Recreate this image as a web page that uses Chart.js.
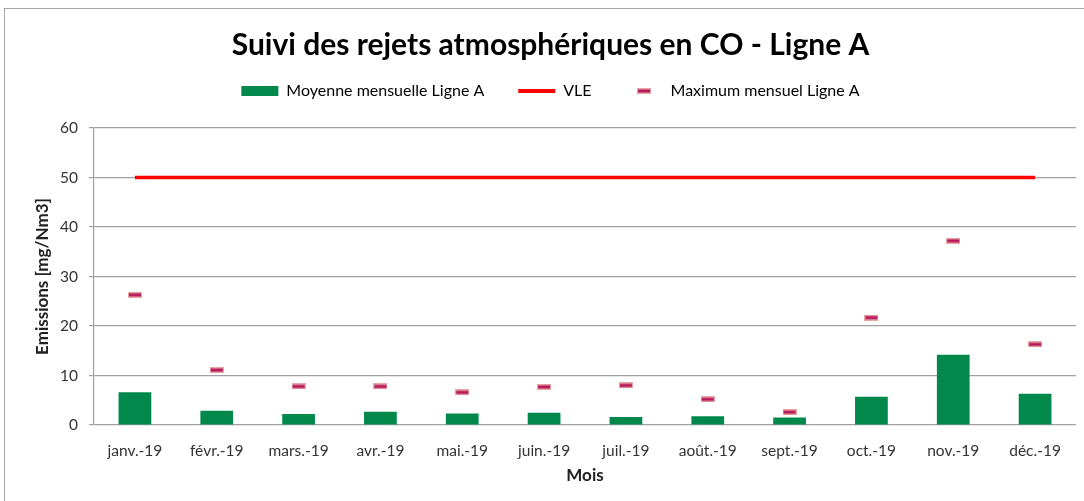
<!DOCTYPE html>
<html lang="fr">
<head>
<meta charset="utf-8">
<title>Suivi des rejets atmosphériques en CO - Ligne A</title>
<script src="https://cdn.jsdelivr.net/npm/chart.js@4"></script>
<style>
  html, body { margin: 0; padding: 0; background: #fff; }
  #conteneur { position: relative; width: 1084px; height: 501px; overflow: hidden; }
  #cadre { position: absolute; left: 4px; top: 8px; width: 1086px; height: 510px; border: 1px solid #a6a6a6; pointer-events: none; }
  canvas { position: absolute; left: 0; top: 0; }
</style>
</head>
<body>
<div id="conteneur">
  <canvas id="grafico-co" width="1084" height="501"></canvas>
  <div id="cadre"></div>
</div>
<script>
// Données du graphique
const mois = ['janv.-19', 'févr.-19', 'mars.-19', 'avr.-19', 'mai.-19', 'juin.-19',
  'juil.-19', 'août.-19', 'sept.-19', 'oct.-19', 'nov.-19', 'déc.-19'];
const moyenneMensuelle = [6.6, 2.9, 2.2, 2.7, 2.3, 2.5, 1.6, 1.75, 1.5, 5.7, 14.2, 6.3];
const valeurLimite = [50, 50, 50, 50, 50, 50, 50, 50, 50, 50, 50, 50];
const maximumMensuel = [26.3, 11.1, 7.8, 7.8, 6.6, 7.7, 8.0, 5.2, 2.6, 21.7, 37.2, 16.3];
const graduationsY = [0, 10, 20, 30, 40, 50, 60];

const police = 'Lato, "Open Sans", sans-serif';

/**
 * Petit tiret utilisé pour les maximums (graphique et légende)
 */
function creerTiret() {
  const c = document.createElement('canvas');
  c.width = 14;
  c.height = 6;
  const ctx = c.getContext('2d');
  ctx.fillStyle = '#e6a4a4';
  ctx.fillRect(0, 0, 14, 6);
  ctx.fillStyle = '#b8195a';
  ctx.fillRect(1, 1.5, 12, 3);
  return c;
}
const tiret = creerTiret();

// Force la hauteur de la légende et décale titre et légende vers la droite
const reglageLegende = {
  id: 'reglageLegende',
  afterInit(chart) {
    const legende = chart.legend;
    if (!legende || legende._hauteurFixee) return;
    const fitOriginal = legende.fit;
    legende.fit = function() {
      fitOriginal.call(this);
      this.height = 79;
    };
    legende._hauteurFixee = true;
  },
  afterLayout(chart) {
    const legende = chart.legend;
    if (legende) {
      legende.left += 12;
      legende.right += 12;
    }
    const titre = chart.titleBlock;
    if (titre) {
      titre.left += 12;
      titre.right += 12;
    }
  }
};

new Chart(document.getElementById('grafico-co'), {
  data: {
    labels: mois,
    datasets: [
      {
        type: 'bar',
        label: 'Moyenne mensuelle Ligne A',
        data: moyenneMensuelle,
        backgroundColor: '#03884c',
        borderWidth: 0,
        categoryPercentage: 1,
        barPercentage: 0.4,
        order: 3
      },
      {
        type: 'line',
        label: 'VLE',
        data: valeurLimite,
        borderColor: '#ff0000',
        backgroundColor: '#ff0000',
        borderWidth: 3.5,
        pointRadius: 0,
        pointStyle: 'line',
        order: 2
      },
      {
        type: 'line',
        label: 'Maximum mensuel Ligne A',
        data: maximumMensuel,
        showLine: false,
        pointStyle: tiret,
        pointRadius: 7,
        borderColor: '#b8195a',
        backgroundColor: '#b8195a',
        order: 1
      }
    ]
  },
  options: {
    responsive: false,
    animation: false,
    layout: { padding: { left: 0, right: 7, top: 0, bottom: 0 } },
    plugins: {
      title: {
        display: true,
        text: 'Suivi des rejets atmosphériques en CO - Ligne A',
        color: '#000',
        font: { family: police, size: 30, weight: 'bold' },
        padding: { top: 27, bottom: -14 }
      },
      legend: {
        display: true,
        labels: {
          usePointStyle: true,
          pointStyleWidth: 37,
          boxHeight: 10,
          padding: 34,
          color: '#222',
          font: { family: police, size: 16 },
          generateLabels(chart) {
            return chart.data.datasets.map((ds, i) => ({
              text: ds.label,
              datasetIndex: i,
              fillStyle: ds.backgroundColor,
              strokeStyle: ds.type === 'line' ? ds.borderColor : ds.backgroundColor,
              lineWidth: ds.type === 'line' && i === 1 ? 4 : 0,
              pointStyle: i === 0 ? 'rect' : (i === 1 ? 'line' : tiret),
              hidden: false
            }));
          }
        }
      },
      tooltip: { enabled: false }
    },
    scales: {
      x: {
        grid: { display: false, drawTicks: false },
        border: { display: false },
        ticks: { color: '#333', font: { family: police, size: 15.5 }, padding: 17, maxRotation: 0 },
        title: {
          display: true,
          text: 'Mois',
          color: '#222',
          font: { family: police, size: 17, weight: 'bold' },
          padding: { top: 4, bottom: 15 }
        },
        afterFit(scale) { scale.height = 76; }
      },
      y: {
        min: 0,
        max: 60,
        afterBuildTicks(scale) { scale.ticks = graduationsY.map(v => ({ value: v })); },
        grid: { color: '#a0a0a0', lineWidth: 1.2, tickLength: 5 },
        border: { display: true, color: '#a0a0a0', width: 1.2 },
        ticks: { color: '#333', font: { family: police, size: 15.5 }, padding: 11 },
        title: {
          display: true,
          text: 'Emissions [mg/Nm3]',
          color: '#222',
          font: { family: police, size: 17, weight: 'bold' },
          padding: { top: 32, bottom: 0 }
        },
        afterFit(scale) { scale.width = 94; }
      }
    }
  },
  plugins: [reglageLegende]
});
</script>
</body>
</html>
